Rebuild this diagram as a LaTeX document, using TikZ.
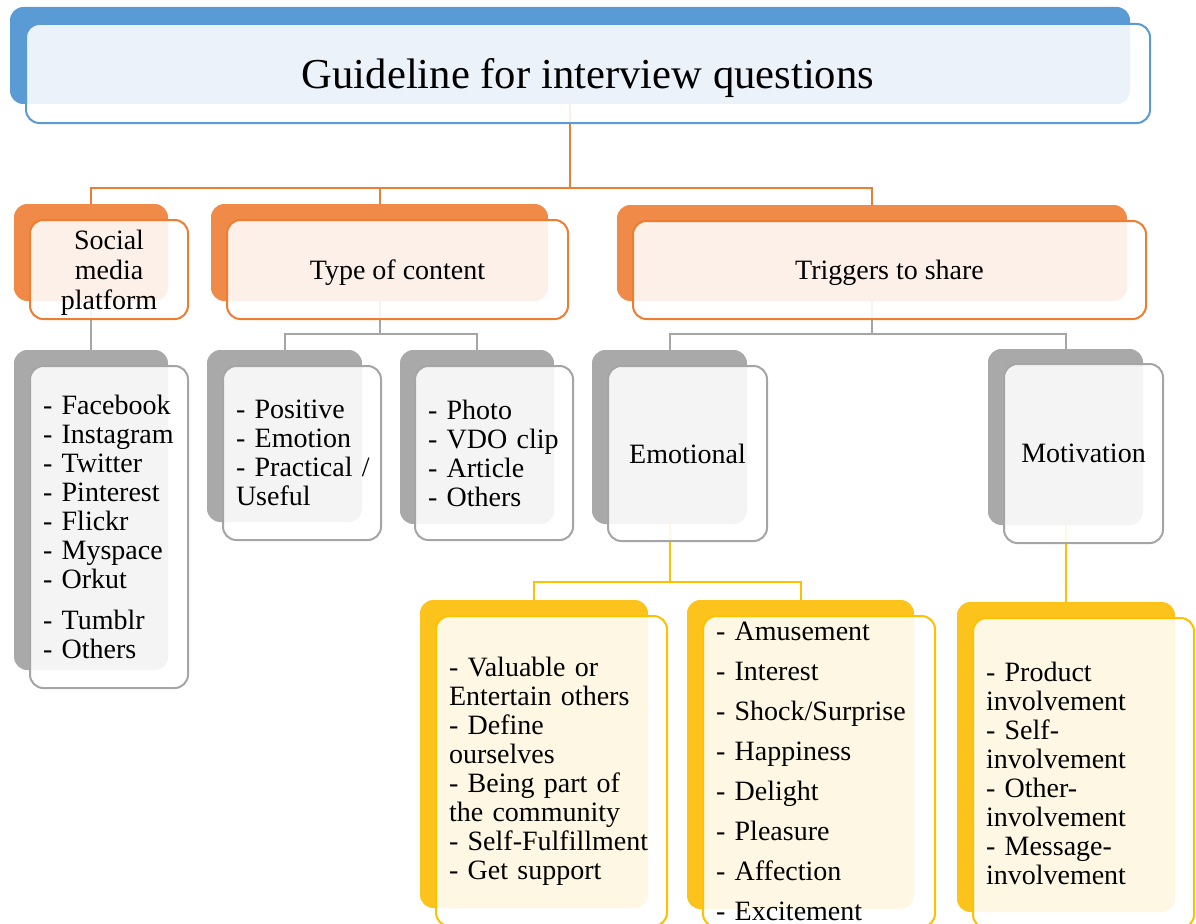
\documentclass[tikz,border=0pt]{standalone}
\usepackage{fontspec}
\setmainfont{Liberation Serif}
\usepackage{tikz}

\newcommand{\pxl}{0.75pt}
\definecolor{blueA}{HTML}{5B9BD5}
\definecolor{orangeA}{HTML}{ED7D31}
\definecolor{orangeB}{HTML}{EF8A48}
\definecolor{grayA}{HTML}{A5A5A5}
\definecolor{grayB}{HTML}{A9A9A9}
\definecolor{yellowA}{HTML}{FFC000}
\definecolor{yellowB}{HTML}{FBC31C}

\tikzset{
  backbox/.style={fill=#1, rounded corners=10pt, inner sep=0pt, outer sep=0pt, anchor=north west},
  frontbox/.style={draw=#1, line width=1.5pt, rounded corners=10pt, fill=white, fill opacity=0.88,
    text opacity=1, inner sep=0pt, outer sep=0pt, anchor=north west},
  listtext/.style={align=left, text width=#1*\pxl, font=\fontsize{21}{21.75}\selectfont},
  headtext/.style={align=center, text depth=0pt, font=\fontsize{21}{22.5}\selectfont},
  linkline/.style={draw=#1, line width=1.5pt}
}

\begin{document}
\begin{tikzpicture}[x=0.75pt,y=-0.75pt]
  \useasboundingbox (0,0) rectangle (1196,924);
  % coloured boxes behind, one per entry (pixel coordinates, y down)
  \node[backbox=blueA, minimum width=1120*\pxl, minimum height=97*\pxl] (titleB) at (10,7) {};
  \node[backbox=orangeB, minimum width=154*\pxl, minimum height=97*\pxl] (socB) at (14,204) {};
  \node[backbox=orangeB, minimum width=337*\pxl, minimum height=97*\pxl] (typeB) at (211,204) {};
  \node[backbox=orangeB, minimum width=510*\pxl, minimum height=96*\pxl] (trigB) at (617,205) {};
  \node[backbox=grayB, minimum width=154*\pxl, minimum height=320*\pxl] (platB) at (14,350) {};
  \node[backbox=grayB, minimum width=155*\pxl, minimum height=172*\pxl] (posB) at (207,350) {};
  \node[backbox=grayB, minimum width=154*\pxl, minimum height=174*\pxl] (medB) at (400,350) {};
  \node[backbox=grayB, minimum width=155*\pxl, minimum height=174*\pxl] (emoB) at (592,350) {};
  \node[backbox=grayB, minimum width=155*\pxl, minimum height=176*\pxl] (motB) at (988,349) {};
  \node[backbox=yellowB, minimum width=228*\pxl, minimum height=308*\pxl] (valB) at (420,600) {};
  \node[backbox=yellowB, minimum width=227*\pxl, minimum height=309*\pxl] (amuB) at (687,600) {};
  \node[backbox=yellowB, minimum width=218*\pxl, minimum height=310*\pxl] (prodB) at (957,602) {};

  % connectors, from the centre of each coloured box
  \draw[linkline=orangeA] (titleB.south) -- ++(0,84) -| (socB.north);
  \draw[linkline=orangeA] (titleB.south) -- ++(0,84) -| (typeB.north);
  \draw[linkline=orangeA] (titleB.south) -- ++(0,84) -| (trigB.north);
  \draw[linkline=grayA] (socB.south) -- (platB.north);
  \draw[linkline=grayA] (typeB.south) -- ++(0,33) -| (posB.north);
  \draw[linkline=grayA] (typeB.south) -- ++(0,33) -| (medB.north);
  \draw[linkline=grayA] (trigB.south) -- ++(0,33) -| (emoB.north);
  \draw[linkline=grayA] (trigB.south) -- ++(0,33) -| (motB.north);
  \draw[linkline=yellowA] (emoB.south) -- ++(0,58) -| (valB.north);
  \draw[linkline=yellowA] (emoB.south) -- ++(0,58) -| (amuB.north);
  \draw[linkline=yellowA] (motB.south) -- (motB.south |- prodB.north);

  % outlined boxes in front, carrying the text
  \node[frontbox=blueA, minimum width=1124*\pxl, minimum height=99*\pxl, text depth=0pt,
    font=\fontsize{32}{38}\selectfont] (title) at (26,24) {Guideline for interview questions};
  \node[frontbox=orangeA, minimum width=158*\pxl, minimum height=99*\pxl, headtext] (soc) at (30,220)
    {Social\\media\\platform};
  \node[frontbox=orangeA, minimum width=341*\pxl, minimum height=99*\pxl, headtext] (type) at (227,220)
    {Type of content};
  \node[frontbox=orangeA, minimum width=513*\pxl, minimum height=98*\pxl, headtext] (trig) at (633,221)
    {Triggers to share};
  \node[frontbox=grayA, minimum width=158*\pxl, minimum height=322*\pxl, listtext=132] (plat) at (30,366)
    {- Facebook\\- Instagram\\- Twitter\\- Pinterest\\- Flickr\\- Myspace\\- Orkut\\[9pt]- Tumblr\\- Others};
  \node[frontbox=grayA, minimum width=158*\pxl, minimum height=174*\pxl, listtext=132] (pos) at (223,366)
    {- Positive\\- Emotion\\\mbox{- Practical /}\\Useful};
  \node[frontbox=grayA, minimum width=158*\pxl, minimum height=174*\pxl, listtext=132] (med) at (415,366)
    {- Photo\\- VDO clip\\- Article\\- Others};
  \node[frontbox=grayA, minimum width=159*\pxl, minimum height=175*\pxl, headtext] (emo) at (608,366)
    {Emotional};
  \node[frontbox=grayA, minimum width=159*\pxl, minimum height=179*\pxl, headtext] (mot) at (1004,364)
    {Motivation};
  \node[frontbox=yellowA, minimum width=231*\pxl, minimum height=310*\pxl, listtext=205] (val) at (436,616)
    {- Valuable or\\Entertain others\\- Define\\ourselves\\- Being part of\\the community\\- Self-Fulfillment\\- Get support};
  \node[frontbox=yellowA, minimum width=232*\pxl, minimum height=311*\pxl, listtext=206,
    font=\fontsize{21}{30}\selectfont] (amu) at (703,616)
    {- Amusement\\- Interest\\- Shock/Surprise\\- Happiness\\- Delight\\- Pleasure\\- Affection\\- Excitement};
  \node[frontbox=yellowA, minimum width=221*\pxl, minimum height=310*\pxl, listtext=195] (prod) at (973,618)
    {- Product\\involvement\\- Self-\\involvement\\- Other-\\involvement\\- Message-\\involvement};
\end{tikzpicture}
\end{document}
